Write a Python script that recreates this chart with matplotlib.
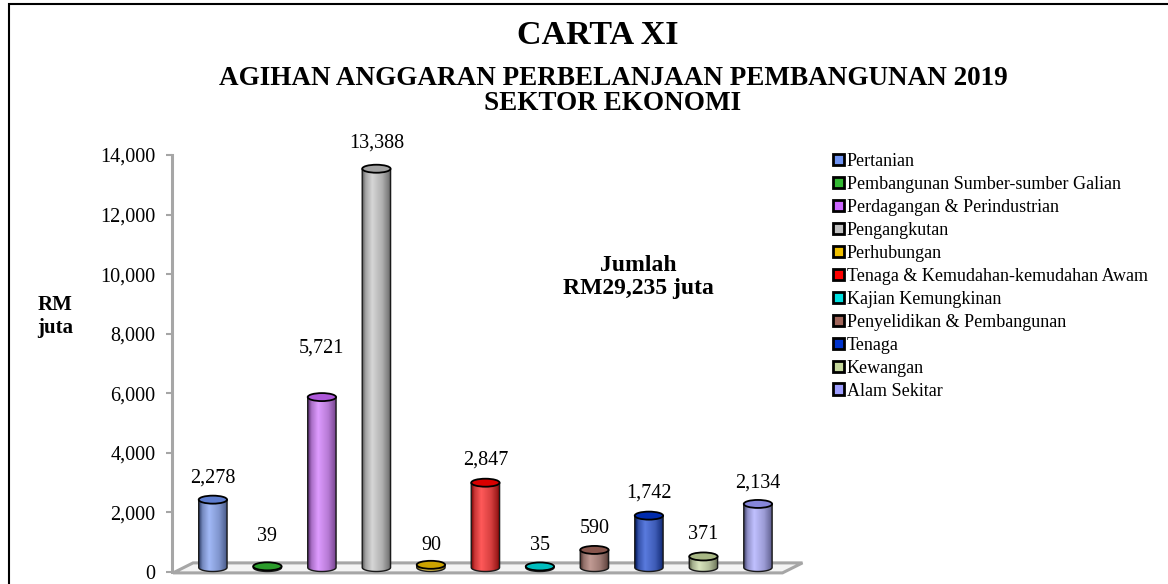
import matplotlib
matplotlib.use('Agg')
import matplotlib.pyplot as plt
import numpy as np
from matplotlib.patches import Ellipse, Patch, Polygon, Rectangle
from matplotlib.colors import to_rgb

plt.rcParams['font.family'] = ['Liberation Serif', 'DejaVu Serif']

sectors = ['Pertanian', 'Pembangunan Sumber-sumber Galian',
           'Perdagangan & Perindustrian', 'Pengangkutan', 'Perhubungan',
           'Tenaga & Kemudahan-kemudahan Awam', 'Kajian Kemungkinan',
           'Penyelidikan & Pembangunan', 'Tenaga', 'Kewangan', 'Alam Sekitar']
values = [2278, 39, 5721, 13388, 90, 2847, 35, 590, 1742, 371, 2134]
colors = ['#6f93f2', '#33b833', '#cc66ff', '#c0c0c0', '#f0c000', '#ff0000',
          '#00e0e0', '#a0655a', '#0033cc', '#c4d79b', '#9e9eff']
yticks = [0, 2000, 4000, 6000, 8000, 10000, 12000, 14000]

# pixel placement of the plot area (matches a 1168x584 canvas)
W, H = 1168, 584
fig = plt.figure(figsize=(W / 100, H / 100), dpi=100)
ax = fig.add_axes([172 / W, 0.0, 635 / W, (H - 155) / H])
ax.set_xlim(-0.75, 10.9)
ax.set_ylim(-403, 14000)

px_x = 635 / 11.65          # pixels per category
px_y = (H - 155) / 14403    # pixels per unit of value

# the 3-d floor: front edge on zero, back edge pushed right and up
dx, dy = 20 / px_x, 10 / px_y
fx0, fx1 = -0.73, 10.45
floor = Polygon([(fx0, -30), (fx1, -30), (fx1 + dx, -30 + dy), (fx0 + dx, -30 + dy)],
                closed=True, facecolor='#f4f4f4', edgecolor='#a6a6a6', lw=2.2, zorder=1)
ax.add_patch(floor)

bw = 0.52
eh = 8 / px_y
lift = 4.5 / px_y

def shade(c):
    c = np.array(to_rgb(c))
    t = np.linspace(0, 1, 64)
    light = c + (1 - c) * 0.35
    dark = c * 0.45
    prof = np.interp(t, [0, 0.12, 0.35, 0.7, 0.92, 1], [0, 0.6, 1, 0.7, 0.3, 0])
    rgb = dark[None, :] + (light - dark)[None, :] * prof[:, None]
    return rgb[None, :, :]

label_lift = [26, 34, 54, 30, 24, 27, 25, 26, 27, 26, 25]

for i, (v, c) in enumerate(zip(values, colors)):
    x0, x1 = i - bw / 2, i + bw / 2
    y0, y1 = lift, v + lift
    # body = rectangle plus lower half of the base ellipse
    th = np.linspace(np.pi, 2 * np.pi, 30)
    bx = i + bw / 2 * np.cos(th)
    by = y0 + eh / 2 * np.sin(th)
    verts = list(zip(bx, by)) + [(x1, y1), (x0, y1), (bx[0], by[0])]
    im = ax.imshow(shade(c), extent=(x0, x1, y0 - eh, y1), aspect='auto',
                   zorder=3, interpolation='bilinear')
    clip = Polygon(verts, closed=True, transform=ax.transData, fc='none')
    im.set_clip_path(clip)
    ax.add_patch(Polygon(verts, closed=True, fc='none', ec='#1a1a1a', lw=1.0, zorder=4))
    top = Ellipse((i, y1), bw, eh, facecolor=np.array(to_rgb(c)) * 0.85,
                  edgecolor='black', lw=1.3, zorder=5)
    ax.add_patch(top)
    ax.annotate(f'{v:,}', (i, v), xytext=(0, label_lift[i] * 0.72),
                textcoords='offset points', ha='center', va='center',
                fontsize=14.5, annotation_clip=False)

for s in ['top', 'right', 'bottom']:
    ax.spines[s].set_visible(False)
ax.spines['left'].set_color('#a6a6a6')
ax.spines['left'].set_linewidth(2.2)
ax.spines['left'].set_bounds(0, 14000)
ax.set_xticks([])
ax.set_yticks(yticks)
ax.set_yticklabels([f'{t:,}' for t in yticks], fontsize=14.5)
ax.tick_params(axis='y', color='#a6a6a6', width=1.5, length=4, pad=8)

fig.text(598 / W, 1 - 35 / H, 'CARTA XI', ha='center', va='center',
         fontsize=24.5, fontweight='bold')
fig.text(613 / W, 1 - 91 / H, 'AGIHAN ANGGARAN PERBELANJAAN PEMBANGUNAN 2019\nSEKTOR EKONOMI',
         ha='center', va='center', fontsize=19.5, fontweight='bold', linespacing=1.0)
fig.text(638 / W, 1 - 277 / H, 'Jumlah\nRM29,235 juta', ha='center', va='center',
         fontsize=17, fontweight='bold', linespacing=1.15)
fig.text(55 / W, 1 - 316 / H, 'RM\njuta', ha='center', va='center',
         fontsize=15, fontweight='bold', linespacing=1.2)

handles = [Patch(facecolor=c, edgecolor='black', linewidth=2) for c in colors]
fig.legend(handles, sectors, loc='upper left', bbox_to_anchor=(833 / W, 1 - 153 / H),
           frameon=False, fontsize=13, handlelength=0.6, handleheight=0.6,
           handletextpad=0.15, labelspacing=0.33, borderpad=0, borderaxespad=0)

fig.patches.append(Rectangle((9 / W, -0.05), 1.2, 1 - 4 / H + 0.05, transform=fig.transFigure,
                             fill=False, edgecolor='black', lw=1.5))

fig.savefig('out.png', dpi=100)
